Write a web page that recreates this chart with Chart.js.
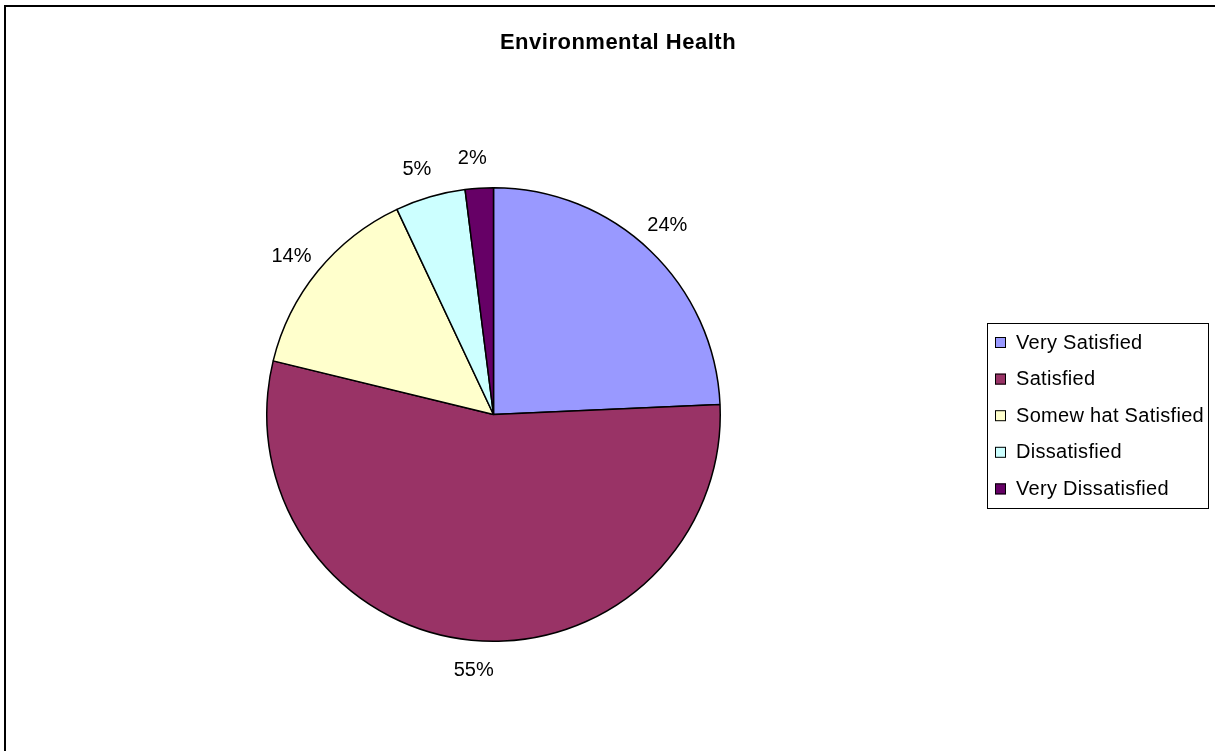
<!DOCTYPE html>
<html>
<head>
<meta charset="utf-8">
<script src="https://cdn.jsdelivr.net/npm/chart.js@4"></script>
<style>
  html, body { margin: 0; padding: 0; background: #fff; }
  #wrap { width: 1215px; height: 751px; position: relative; }
</style>
</head>
<body>
<div id="wrap"><canvas id="pieChart" width="1215" height="751"></canvas></div>
<script>
// Data
const categories = ["Very Satisfied", "Satisfied", "Somewhat Satisfied", "Dissatisfied", "Very Dissatisfied"];
const legendLabels = ["Very Satisfied", "Satisfied", "Somew hat Satisfied", "Dissatisfied", "Very Dissatisfied"];
const percentValues = [24.3, 54.5, 14.2, 5.0, 2.0];
const sliceColors = ["#9999FF", "#993366", "#FFFFCC", "#CCFFFF", "#660066"];
const chartTitle = "Environmental Health";

const FONT = "'Liberation Sans', Arial, sans-serif";

// Draws frame, title, outside percentage labels and the boxed legend
const decorPlugin = {
  id: "decor",
  afterDraw(chart) {
    const ctx = chart.ctx;
    ctx.save();

    // outer frame
    ctx.strokeStyle = "#000";
    ctx.lineWidth = 2;
    ctx.strokeRect(5, 6, 1240, 780);

    // title
    ctx.fillStyle = "#000";
    ctx.font = "bold 22px " + FONT;
    ctx.letterSpacing = "0.5px";
    ctx.textAlign = "center";
    ctx.textBaseline = "middle";
    ctx.fillText(chartTitle, 618, 43);

    // percentage labels outside the slices
    const meta = chart.getDatasetMeta(0);
    const total = percentValues.reduce((a, b) => a + b, 0);
    ctx.font = "20px " + FONT;
    ctx.letterSpacing = "0px";
    meta.data.forEach((arc, i) => {
      const p = arc.getProps(["x", "y", "startAngle", "endAngle", "outerRadius"], true);
      const mid = (p.startAngle + p.endAngle) / 2 - 0.02;
      const r = p.outerRadius + 30;
      const txt = Math.round(percentValues[i] / total * 100) + "%";
      ctx.fillText(txt, p.x + Math.cos(mid) * r, p.y + Math.sin(mid) * r);
    });

    // legend box
    ctx.lineWidth = 1;
    ctx.strokeStyle = "#000";
    ctx.strokeRect(987.5, 323.5, 221, 185);
    ctx.textAlign = "left";
    ctx.letterSpacing = "0.3px";
    legendLabels.forEach((lab, i) => {
      const cy = 342.5 + i * 36.6;
      ctx.fillStyle = sliceColors[i];
      ctx.fillRect(995, cy - 5.5, 11, 11);
      ctx.strokeStyle = "#000";
      ctx.strokeRect(995.5, cy - 5, 10, 10);
      ctx.fillStyle = "#000";
      ctx.fillText(lab, 1016, cy + 0.5);
    });

    ctx.restore();
  }
};

const ctx = document.getElementById("pieChart").getContext("2d");
new Chart(ctx, {
  type: "pie",
  data: {
    labels: categories,
    datasets: [{
      data: percentValues,
      backgroundColor: sliceColors,
      borderColor: "#000",
      borderWidth: 1.5
    }]
  },
  options: {
    responsive: false,
    animation: false,
    layout: { padding: { left: 266, right: 494, top: 187, bottom: 109 } },
    plugins: {
      legend: { display: false },
      title: { display: false },
      tooltip: { enabled: false }
    }
  },
  plugins: [decorPlugin]
});
</script>
</body>
</html>
